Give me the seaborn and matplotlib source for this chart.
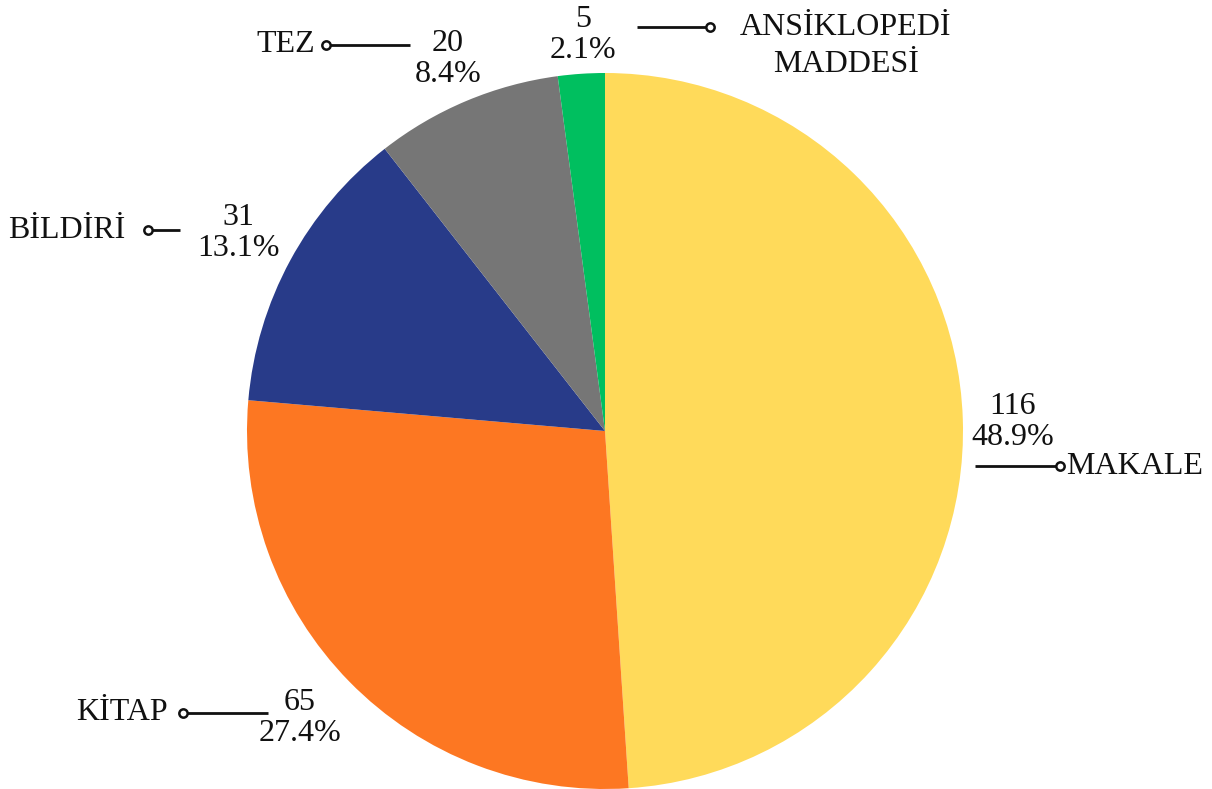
import matplotlib
matplotlib.use("Agg")
import matplotlib.pyplot as plt
import seaborn as sns

# data
categories = ["MAKALE", "KİTAP", "BİLDİRİ", "TEZ", "ANSİKLOPEDİ\nMADDESİ"]
counts = [116, 65, 31, 20, 5]
percents = ["48.9%", "27.4%", "13.1%", "8.4%", "2.1%"]
colors = ["#FFDA5A", "#FD7722", "#283B89", "#767676", "#00BF5F"]

sns.set_theme(style="white")
plt.rcParams["font.family"] = ["Liberation Serif", "DejaVu Serif"]

fig = plt.figure(figsize=(12.12, 7.89), dpi=100)
ax = fig.add_axes([0, 0, 1, 1])

R = 358.0  # pixel radius
cx, cy = 605.0, 431.0
W, H = 1212.0, 789.0


def d(px, py):
    # pixel (from top-left) -> data coords
    return (px - cx) / R, (cy - py) / R


ax.pie(counts, colors=colors, startangle=90, counterclock=False,
       radius=1.0, center=(0, 0), wedgeprops=dict(linewidth=0))
ax.set_xlim(-cx / R, (W - cx) / R)
ax.set_ylim(-(H - cy) / R, cy / R)
ax.set_aspect("auto")
ax.axis("off")

fs = 23
txt = dict(fontsize=fs, color="#111111", ha="center", va="center", linespacing=1.05)

# value labels: (center px, center py)
value_pos = [(1013, 422), (300, 718), (238, 233), (448, 59), (583, 35)]
for (px, py), n, p in zip(value_pos, counts, percents):
    ax.text(*d(px, py), f"{n}\n{p}", **txt)

# leader lines: (x_start, x_end, y, circle end)
leaders = [(975, 1060, 466, "end"), (183, 268, 713, "start"),
           (148, 180, 230, "start"), (326, 410, 45, "start"),
           (637, 710, 27, "end")]
for x0, x1, y, circ in leaders:
    (a, b), (c, _) = d(x0, y), d(x1, y)
    ax.plot([a, c], [b, b], color="#111111", lw=2, solid_capstyle="butt")
    mx = c if circ == "end" else a
    ax.plot([mx], [b], marker="o", ms=6, mfc="white", mec="#111111", mew=1.8)

# category labels
cat_pos = [(1066, 466, "left"), (122, 713, "center"), (67, 231, "center"),
           (286, 45, "center"), (846, 46, "center")]
for (px, py, ha), name in zip(cat_pos, categories):
    kw = dict(txt)
    kw["ha"] = ha
    if "\n" in name:
        kw["linespacing"] = 1.35
    ax.text(*d(px, py), name, **kw)

fig.savefig("out.png", dpi=100, facecolor="white")
